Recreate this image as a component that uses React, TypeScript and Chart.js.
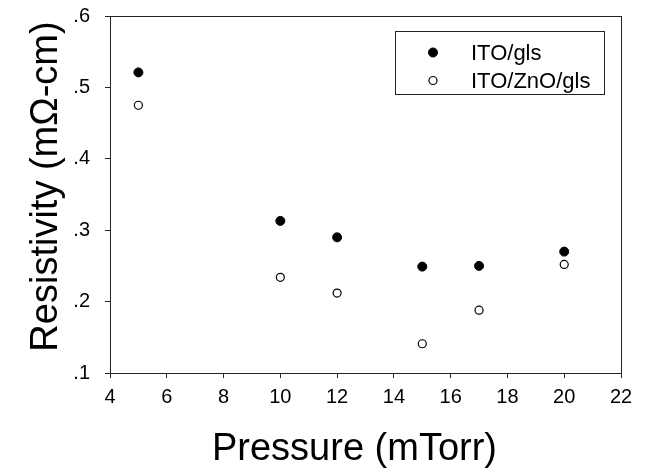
import React, { useEffect, useRef } from "react";
import { Chart, registerables } from "chart.js";

Chart.register(...registerables);

const pressure = [5, 10, 12, 15, 17, 20];
const itoGls = [0.521, 0.313, 0.29, 0.249, 0.25, 0.27];
const itoZnoGls = [0.475, 0.234, 0.212, 0.141, 0.188, 0.252];
const seriesLabels = ["ITO/gls", "ITO/ZnO/gls"];
const xTitle = "Pressure (mTorr)";
const yTitle = "Resistivity (m\u03A9-cm)";

const FONT = "'Liberation Sans', Arial, Helvetica, sans-serif";

const framePlugin = {
  id: "frame",
  afterDatasetsDraw(chart: any) {
    const { ctx, chartArea } = chart;
    ctx.save();
    ctx.strokeStyle = "#222";
    ctx.lineWidth = 1;
    ctx.strokeRect(
      Math.round(chartArea.left) + 0.5,
      Math.round(chartArea.top) + 0.5,
      Math.round(chartArea.right - chartArea.left),
      Math.round(chartArea.bottom - chartArea.top)
    );
    ctx.restore();
  },
};

const titlesPlugin = {
  id: "axisTitles",
  afterDraw(chart: any) {
    const { ctx, chartArea } = chart;
    ctx.save();
    ctx.fillStyle = "#000";
    ctx.font = `38px ${FONT}`;
    ctx.textAlign = "center";
    ctx.textBaseline = "alphabetic";
    const cx = (chartArea.left + chartArea.right) / 2 - 11;
    ctx.fillText(xTitle, cx, chartArea.bottom + 87);
    const cy = (chartArea.top + chartArea.bottom) / 2 - 8;
    ctx.translate(57, cy);
    ctx.rotate(-Math.PI / 2);
    ctx.fillText(yTitle, 0, 0);
    ctx.restore();
  },
};

const legendPlugin = {
  id: "boxLegend",
  afterDraw(chart: any) {
    const { ctx, chartArea } = chart;
    const right = chartArea.right - 17;
    const top = chartArea.top + 14.5;
    const w = 209;
    const h = 63;
    const left = right - w;
    ctx.save();
    ctx.fillStyle = "#fff";
    ctx.fillRect(left, top, w, h);
    ctx.strokeStyle = "#222";
    ctx.lineWidth = 1;
    ctx.strokeRect(Math.round(left) + 0.5, Math.round(top) + 0.5, w, h);
    chart.data.datasets.forEach((ds: any, i: number) => {
      const cy = top + 22 + i * 28;
      const mx = left + 38;
      ctx.beginPath();
      ctx.arc(mx, cy, ds.pointRadius, 0, Math.PI * 2);
      ctx.fillStyle = ds.pointBackgroundColor;
      ctx.fill();
      ctx.lineWidth = ds.pointBorderWidth;
      ctx.strokeStyle = ds.pointBorderColor;
      ctx.stroke();
      ctx.fillStyle = "#000";
      ctx.font = `22px ${FONT}`;
      ctx.textBaseline = "middle";
      ctx.textAlign = "left";
      ctx.fillText(ds.label, left + 76, cy + 1);
    });
    ctx.restore();
  },
};

export default function App() {
  const ref = useRef<HTMLCanvasElement>(null);
  useEffect(() => {
    if (!ref.current) return;
    const chart = new Chart(ref.current, {
      type: "scatter",
      data: {
        datasets: [
          {
            label: seriesLabels[0],
            data: pressure.map((x, i) => ({ x, y: itoGls[i] })),
            pointRadius: 4.5,
            pointBackgroundColor: "#000",
            pointBorderColor: "#000",
            pointBorderWidth: 1,
          },
          {
            label: seriesLabels[1],
            data: pressure.map((x, i) => ({ x, y: itoZnoGls[i] })),
            pointRadius: 4,
            pointBackgroundColor: "#fff",
            pointBorderColor: "#000",
            pointBorderWidth: 1.2,
          },
        ],
      },
      options: {
        animation: false,
        responsive: false,
        layout: { padding: { top: 16, right: 27, left: 0, bottom: 0 } },
        plugins: { legend: { display: false }, tooltip: { enabled: false } },
        scales: {
          x: {
            type: "linear",
            min: 4,
            max: 22,
            afterFit: (s: any) => {
              s.height = 96;
              s.paddingLeft = 0;
              s.paddingRight = 0;
            },
            ticks: {
              stepSize: 2,
              color: "#000",
              padding: 7,
              font: { family: FONT, size: 20 },
            },
            grid: { drawOnChartArea: false, drawTicks: true, tickLength: 5, color: "#222" },
            border: { display: true, color: "#222" },
          },
          y: {
            type: "linear",
            min: 0.1,
            max: 0.6,
            afterFit: (s: any) => {
              s.width = 110;
              s.paddingTop = 0;
              s.paddingBottom = 0;
            },
            ticks: {
              stepSize: 0.1,
              color: "#000",
              padding: 15,
              font: { family: FONT, size: 20 },
              callback: (v: any) => Number(v).toFixed(1).replace(/^0/, ""),
            },
            grid: { drawOnChartArea: false, drawTicks: true, tickLength: 5, color: "#222" },
            border: { display: true, color: "#222" },
          },
        },
      },
      plugins: [framePlugin, titlesPlugin, legendPlugin],
    });
    return () => chart.destroy();
  }, []);
  return (
    <div style={{ position: "fixed", left: 0, top: 0, width: 648, height: 469, background: "#fff" }}>
      <canvas ref={ref} width={648} height={469} style={{ width: 648, height: 469, display: "block" }} />
    </div>
  );
}
